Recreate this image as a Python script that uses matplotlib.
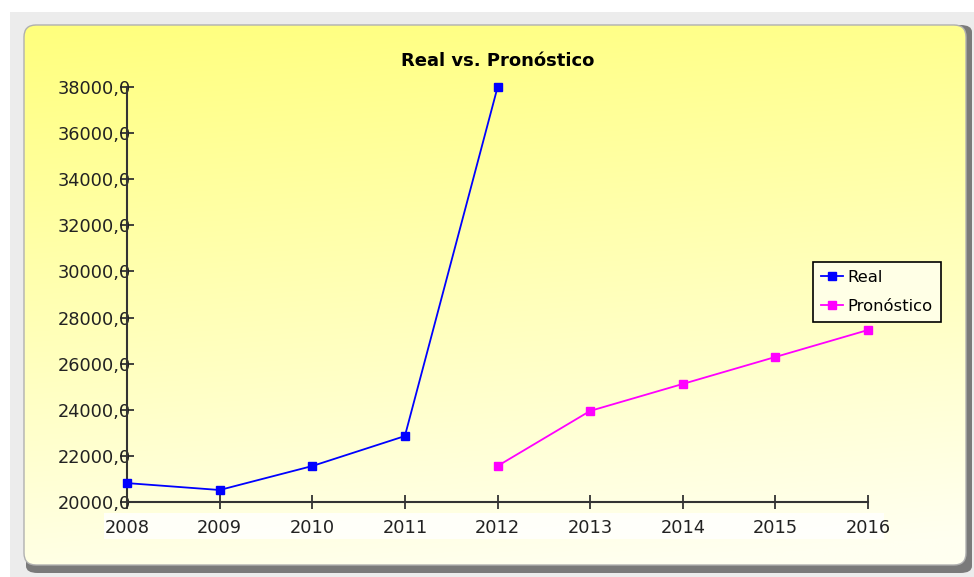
import numpy as np
import matplotlib
matplotlib.use('Agg')
import matplotlib.pyplot as plt
from matplotlib.patches import FancyBboxPatch, Rectangle

# data
years_real = [2008, 2009, 2010, 2011, 2012]
real = [20820, 20520, 21560, 22860, 37980]
years_fc = [2012, 2013, 2014, 2015, 2016]
forecast = [21560, 23950, 25120, 26290, 27460]
x_ticks = list(range(2008, 2017))
y_ticks = list(range(20000, 38001, 2000))

plt.rcParams['font.family'] = ['DejaVu Sans']

W, H = 974, 577
fig = plt.figure(figsize=(W / 100, H / 100), dpi=100)
fig.patch.set_facecolor('white')

# outer grey frame and panel shadow
fig.patches.append(Rectangle((10 / W, 0), 1, 1 - 12 / H, transform=fig.transFigure,
                             facecolor='#ececec', edgecolor='none', zorder=0))
fig.patches.append(FancyBboxPatch((26 / W, 4 / H), 946 / W, 548 / H,
                                  boxstyle='round,pad=0,rounding_size=0.012',
                                  transform=fig.transFigure, facecolor='#7a7a7a',
                                  edgecolor='none', zorder=0.5))

# gradient panel
bg = fig.add_axes([0, 0, 1, 1], zorder=0.8)
bg.set_xlim(0, W)
bg.set_ylim(H, 0)
bg.axis('off')
yy = np.linspace(0, 1, 256)[:, None]
xx = np.linspace(0, 1, 256)[None, :]
t = np.clip(0.9 * yy + 0.15 * xx, 0, 1)
top = np.array([255, 255, 125]) / 255
bot = np.array([255, 255, 240]) / 255
img = top[None, None, :] * (1 - t[..., None]) + bot[None, None, :] * t[..., None]
panel = FancyBboxPatch((24, 25), 942, 540, boxstyle='round,pad=0,rounding_size=12',
                       facecolor='none', edgecolor='#b0b0b0', lw=1, zorder=2)
bg.add_patch(panel)
im = bg.imshow(img, extent=(24, 966, 565, 25), aspect='auto', zorder=1)
im.set_clip_path(panel)
# white strip behind the x labels
bg.add_patch(Rectangle((104, 513), 780, 26, facecolor='white', edgecolor='none',
                       alpha=0.8, zorder=1.5))

ax = fig.add_axes([127 / W, 75 / H, 741 / W, 415 / H], zorder=2)
ax.patch.set_alpha(0)

ax.plot(years_real, real, color='#0000ff', lw=1.3, marker='s', ms=6,
        label='Real', clip_on=False, zorder=3)
ax.plot(years_fc, forecast, color='#ff00ff', lw=1.3, marker='s', ms=6,
        label='Pronóstico', clip_on=False, zorder=3)

ax.set_xlim(2008, 2016)
ax.set_ylim(20000, 38000)
ax.set_xticks(x_ticks)
ax.set_xticklabels([str(y) for y in x_ticks])
ax.set_yticks(y_ticks)
ax.set_yticklabels([f'{v},0' for v in y_ticks])

for s in ['top', 'right']:
    ax.spines[s].set_visible(False)
for s in ['left', 'bottom']:
    ax.spines[s].set_color('#333333')
    ax.spines[s].set_linewidth(1.5)

ax.tick_params(axis='y', direction='inout', length=10, width=1.3, color='#333333',
               pad=-8, labelsize=12.8, labelcolor='#222222')
ax.tick_params(axis='x', direction='inout', length=10, width=1.3, color='#333333',
               pad=7, labelsize=12.8, labelcolor='#222222')

fig.text(498 / W, 1 - 61 / H, 'Real vs. Pronóstico', ha='center', va='center',
         fontsize=13, fontweight='bold', zorder=5)

leg = fig.legend(loc='upper left', bbox_to_anchor=(813 / W, 1 - 262 / H),
                 fontsize=11.8, frameon=True, fancybox=False, borderpad=0.5,
                 handlelength=1.3, handletextpad=0.3, labelspacing=0.85,
                 borderaxespad=0)
leg.get_frame().set_edgecolor('black')
leg.get_frame().set_linewidth(1.2)
leg.get_frame().set_facecolor('#ffffe6')
leg.get_frame().set_alpha(1)
leg.set_zorder(6)

fig.savefig('out.png', dpi=100)
